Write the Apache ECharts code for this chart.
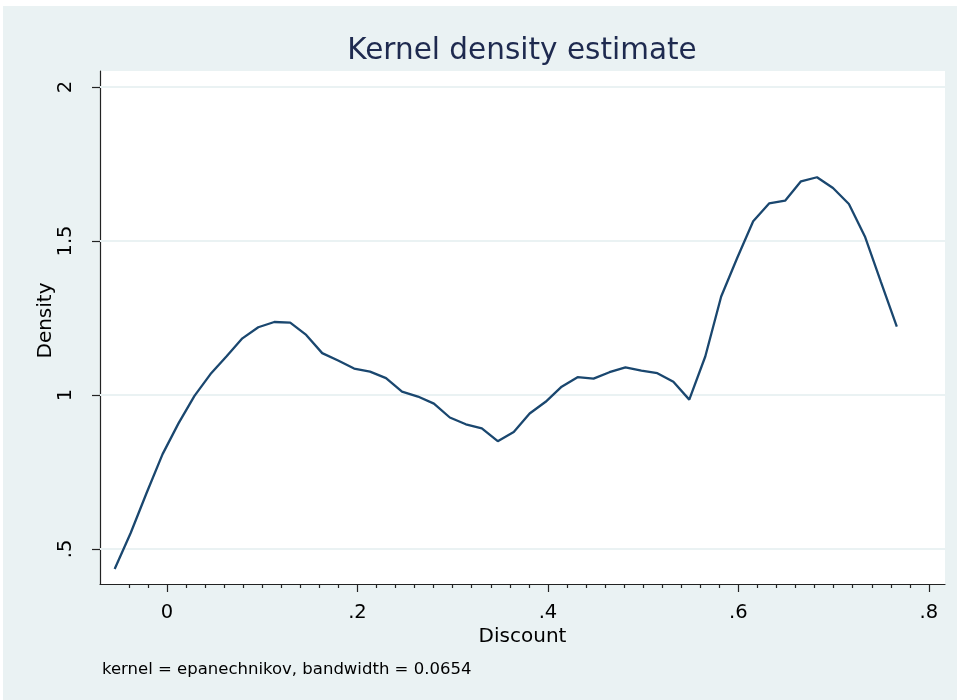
<!DOCTYPE html>
<html>
<head>
<meta charset="utf-8">
<title>Kernel density estimate</title>
<script src="https://cdn.jsdelivr.net/npm/echarts@6/dist/echarts.min.js"></script>
<style>
  html, body { margin: 0; padding: 0; background: #ffffff; }
  #chart { width: 957px; height: 700px; }
</style>
</head>
<body>
<div id="chart"></div>
<script>
// Evaluation grid (Discount) and estimated density at each point
const discount = [
  -0.0549, -0.0381, -0.0214, -0.0046, 0.0121, 0.0289, 0.0457, 0.0624, 0.0792, 0.0959,
   0.1127,  0.1294,  0.1462,  0.1630, 0.1797, 0.1965, 0.2132, 0.2300, 0.2468, 0.2635,
   0.2803,  0.2970,  0.3138,  0.3306, 0.3473, 0.3641, 0.3808, 0.3976, 0.4144, 0.4311,
   0.4479,  0.4646,  0.4814,  0.4981, 0.5149, 0.5317, 0.5484, 0.5652, 0.5819, 0.5987,
   0.6155,  0.6322,  0.6490,  0.6657, 0.6825, 0.6993, 0.7160, 0.7328, 0.7495, 0.7663
];
const density = [
  0.435, 0.552, 0.682, 0.808, 0.908, 0.997, 1.068, 1.125, 1.184, 1.220,
  1.237, 1.235, 1.195, 1.136, 1.112, 1.086, 1.076, 1.055, 1.011, 0.995,
  0.972, 0.927, 0.905, 0.892, 0.850, 0.880, 0.940, 0.978, 1.027, 1.058,
  1.053, 1.074, 1.090, 1.079, 1.071, 1.043, 0.985, 1.125, 1.320, 1.445,
  1.564, 1.622, 1.631, 1.694, 1.707, 1.672, 1.620, 1.515, 1.368, 1.222
];

// Axis ticks and their labels
const xTickValues = [0, 0.2, 0.4, 0.6, 0.8];
const xTickLabels = ['0', '.2', '.4', '.6', '.8'];
const xMinorTicks = [
  -0.04, -0.02, 0.02, 0.04, 0.06, 0.08, 0.10, 0.12, 0.14, 0.16, 0.18,
  0.22, 0.24, 0.26, 0.28, 0.30, 0.32, 0.34, 0.36, 0.38,
  0.42, 0.44, 0.46, 0.48, 0.50, 0.52, 0.54, 0.56, 0.58,
  0.62, 0.64, 0.66, 0.68, 0.70, 0.72, 0.74, 0.76, 0.78
];
const yTickValues = [0.5, 1, 1.5, 2];
const yTickLabels = ['.5', '1', '1.5', '2'];

const FONT = '"DejaVu Sans", "Liberation Sans", sans-serif';
const BG = '#EAF2F3';
const INK = '#222222';

function labelFor(values, labels) {
  return function (v) {
    for (let i = 0; i < values.length; i++) {
      if (Math.abs(values[i] - v) < 1e-9) return labels[i];
    }
    return '';
  };
}

const X_MIN = -0.0703, X_MAX = 0.8169;
const Y_MIN = 0.3864, Y_MAX = 2.052;

const chart = echarts.init(document.getElementById('chart'), null, { renderer: 'canvas' });

chart.setOption({
  animation: false,
  backgroundColor: '#ffffff',
  graphic: [
    {
      type: 'rect',
      z: -100,
      silent: true,
      shape: { x: 3, y: 6, width: 954, height: 694 },
      style: { fill: BG }
    }
  ],
  title: [
    {
      text: 'Kernel density estimate',
      left: 522,
      textAlign: 'center',
      top: 36,
      padding: 0,
      textStyle: { fontFamily: FONT, fontSize: 29.5, fontWeight: 'normal', color: '#1E2A4F' }
    },
    {
      text: 'kernel = epanechnikov, bandwidth = 0.0654',
      left: 102,
      top: 661,
      padding: 0,
      textStyle: { fontFamily: FONT, fontSize: 16.5, fontWeight: 'normal', color: '#000000' }
    }
  ],
  grid: {
    left: 100, right: 12, top: 71, bottom: 116,
    show: true, backgroundColor: '#ffffff', borderWidth: 0,
    containLabel: false
  },
  xAxis: [
    {
      type: 'value',
      min: X_MIN, max: X_MAX,
      position: 'bottom',
      axisLine: { show: true, onZero: false, lineStyle: { color: INK, width: 1.2 } },
      axisTick: { show: true, customValues: xTickValues, length: 8, lineStyle: { color: INK, width: 1.2 } },
      axisLabel: {
        customValues: xTickValues,
        formatter: labelFor(xTickValues, xTickLabels),
        fontFamily: FONT, fontSize: 19.5, color: '#000000', margin: 19
      },
      splitLine: { show: false },
      name: 'Discount',
      nameLocation: 'middle',
      nameGap: 43,
      nameMoveOverlap: false,
      nameTextStyle: { fontFamily: FONT, fontSize: 20, color: '#000000' }
    },
    {
      type: 'value',
      min: X_MIN, max: X_MAX,
      position: 'bottom',
      offset: 0,
      axisLine: { show: false },
      axisTick: { show: true, customValues: xMinorTicks, length: 4, lineStyle: { color: INK, width: 1.2 } },
      axisLabel: { show: false },
      splitLine: { show: false }
    }
  ],
  yAxis: {
    type: 'value',
    min: Y_MIN, max: Y_MAX,
    axisLine: { show: true, onZero: false, lineStyle: { color: INK, width: 1.2 } },
    axisTick: { show: true, customValues: yTickValues, length: 8, lineStyle: { color: INK, width: 1.2 } },
    axisLabel: {
      customValues: yTickValues,
      formatter: labelFor(yTickValues, yTickLabels),
      rotate: 90,
      fontFamily: FONT, fontSize: 19.5, color: '#000000', margin: 24
    },
    splitLine: { show: false },
    name: 'Density',
    nameLocation: 'middle',
    nameGap: 44,
    nameMoveOverlap: false,
    nameTextStyle: { fontFamily: FONT, fontSize: 20, color: '#000000', padding: [0, 0, 0, 14] }
  },
  series: [
    {
      type: 'line',
      name: 'Density',
      data: discount.map((x, i) => [x, density[i]]),
      showSymbol: false,
      smooth: false,
      lineStyle: { color: '#1A476F', width: 2.3 },
      itemStyle: { color: '#1A476F' },
      z: 3,
      markLine: {
        silent: true,
        z: 1,
        symbol: ['none', 'none'],
        label: { show: false },
        lineStyle: { color: BG, width: 2, type: 'solid' },
        data: yTickValues.map(v => ({ yAxis: v }))
      }
    }
  ]
});
</script>
</body>
</html>
